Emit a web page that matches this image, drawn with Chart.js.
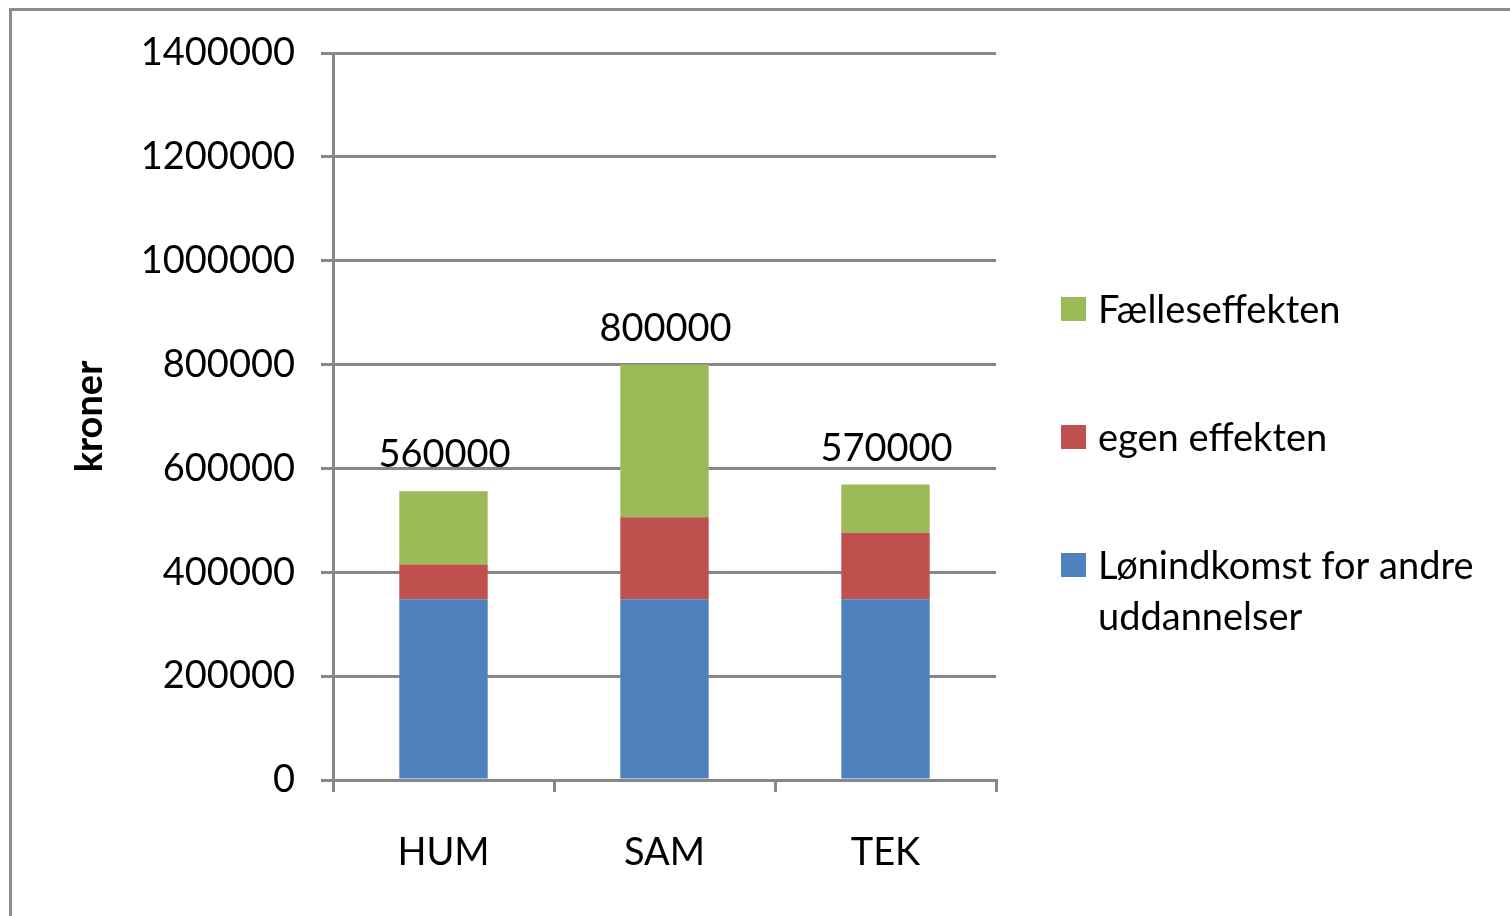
<!DOCTYPE html>
<html>
<head>
<meta charset="utf-8">
<script src="https://cdn.jsdelivr.net/npm/chart.js@4"></script>
<style>
    html, body { margin: 0; padding: 0; background: #fff; overflow: hidden; }
    #frame {
        position: absolute; left: 9px; top: 8px; width: 2000px; height: 2000px;
        border-left: 3px solid #8c8c8c; border-top: 3px solid #8c8c8c;
    }
    #wrap { position: absolute; left: 0; top: 0; width: 1510px; height: 916px; }
</style>
</head>
<body>
<div id="frame"></div>
<div id="wrap"><canvas id="chart" width="1510" height="916"></canvas></div>
<script>
// Données
const categories = ["HUM", "SAM", "TEK"];
const lonValues = [348000, 348000, 348000];
const egenValues = [67000, 158000, 128000];
const faellesValues = [141000, 294000, 93000];
const totalLabels = ["560000", "800000", "570000"];
const yTicks = [0, 200000, 400000, 600000, 800000, 1000000, 1200000, 1400000];
const seriesNames = ["Lønindkomst for andre uddannelser", "egen effekten", "Fælleseffekten"];

const FONT = "Lato";
const SIZE = 38;
const GRID = "#878787";

// étiquettes de total au-dessus des barres
const totalsPlugin = {
    id: "totals",
    afterDatasetsDraw(chart) {
        const ctx = chart.ctx;
        const meta = chart.getDatasetMeta(chart.data.datasets.length - 1);
        ctx.save();
        ctx.font = SIZE + "px " + FONT;
        ctx.fillStyle = "#000";
        ctx.textAlign = "center";
        ctx.textBaseline = "alphabetic";
        meta.data.forEach((bar, i) => {
            ctx.fillText(totalLabels[i], bar.x + 1, bar.y - 24);
        });
        ctx.restore();
    },
};

// légende à droite (ordre inversé, texte sur plusieurs lignes)
const sideLegend = {
    id: "sideLegend",
    afterDraw(chart) {
        const ctx = chart.ctx;
        const ds = chart.data.datasets.slice().reverse();
        ctx.save();
        ctx.font = SIZE + "px " + FONT;
        ctx.textAlign = "left";
        ctx.textBaseline = "alphabetic";
        ds.forEach((d, i) => {
            const top = 297 + i * 128;
            ctx.fillStyle = d.backgroundColor;
            ctx.fillRect(1061, top, 25, 24);
            ctx.fillStyle = "#000";
            // retour à la ligne simple
            const words = d.label.split(" ");
            const lines = [];
            let cur = "";
            words.forEach((w) => {
                const test = cur ? cur + " " + w : w;
                if (ctx.measureText(test).width > 405 && cur) {
                    lines.push(cur);
                    cur = w;
                } else {
                    cur = test;
                }
            });
            lines.push(cur);
            lines.forEach((ln, j) => ctx.fillText(ln, 1098, top + 26 + j * 51));
        });
        ctx.restore();
    },
};

new Chart(document.getElementById("chart"), {
    type: "bar",
    data: {
        labels: categories,
        datasets: [
            { label: seriesNames[0], data: lonValues, backgroundColor: "#4F81BD" },
            { label: seriesNames[1], data: egenValues, backgroundColor: "#C0504D" },
            { label: seriesNames[2], data: faellesValues, backgroundColor: "#9BBB59" },
        ],
    },
    options: {
        responsive: false,
        animation: false,
        devicePixelRatio: 1,
        layout: { padding: { left: 0, right: 514, top: 53, bottom: 0 } },
        datasets: { bar: { categoryPercentage: 1, barPercentage: 0.4 } },
        plugins: { legend: { display: false }, tooltip: { enabled: false } },
        scales: {
            x: {
                stacked: true,
                grid: { offset: true, drawOnChartArea: false, color: GRID, lineWidth: 3, tickLength: 12 },
                border: { color: GRID, width: 3 },
                ticks: { color: "#000", font: { family: FONT, size: SIZE }, padding: 38 },
                afterFit(scale) { scale.height = 136; },
            },
            y: {
                stacked: true,
                min: 0,
                max: 1400000,
                afterBuildTicks(scale) { scale.ticks = yTicks.map((v) => ({ value: v })); },
                grid: { color: GRID, lineWidth: 3, tickLength: 12 },
                border: { color: GRID, width: 3 },
                ticks: {
                    color: "#000",
                    font: { family: FONT, size: SIZE },
                    padding: 26,
                    callback: (v) => String(v),
                },
                title: {
                    display: true,
                    text: "kroner",
                    color: "#000",
                    font: { family: FONT, size: SIZE, weight: "bold" },
                    padding: { top: 67, bottom: 0 },
                },
                afterFit(scale) { scale.width = 333; },
            },
        },
    },
    plugins: [totalsPlugin, sideLegend],
});
</script>
</body>
</html>
